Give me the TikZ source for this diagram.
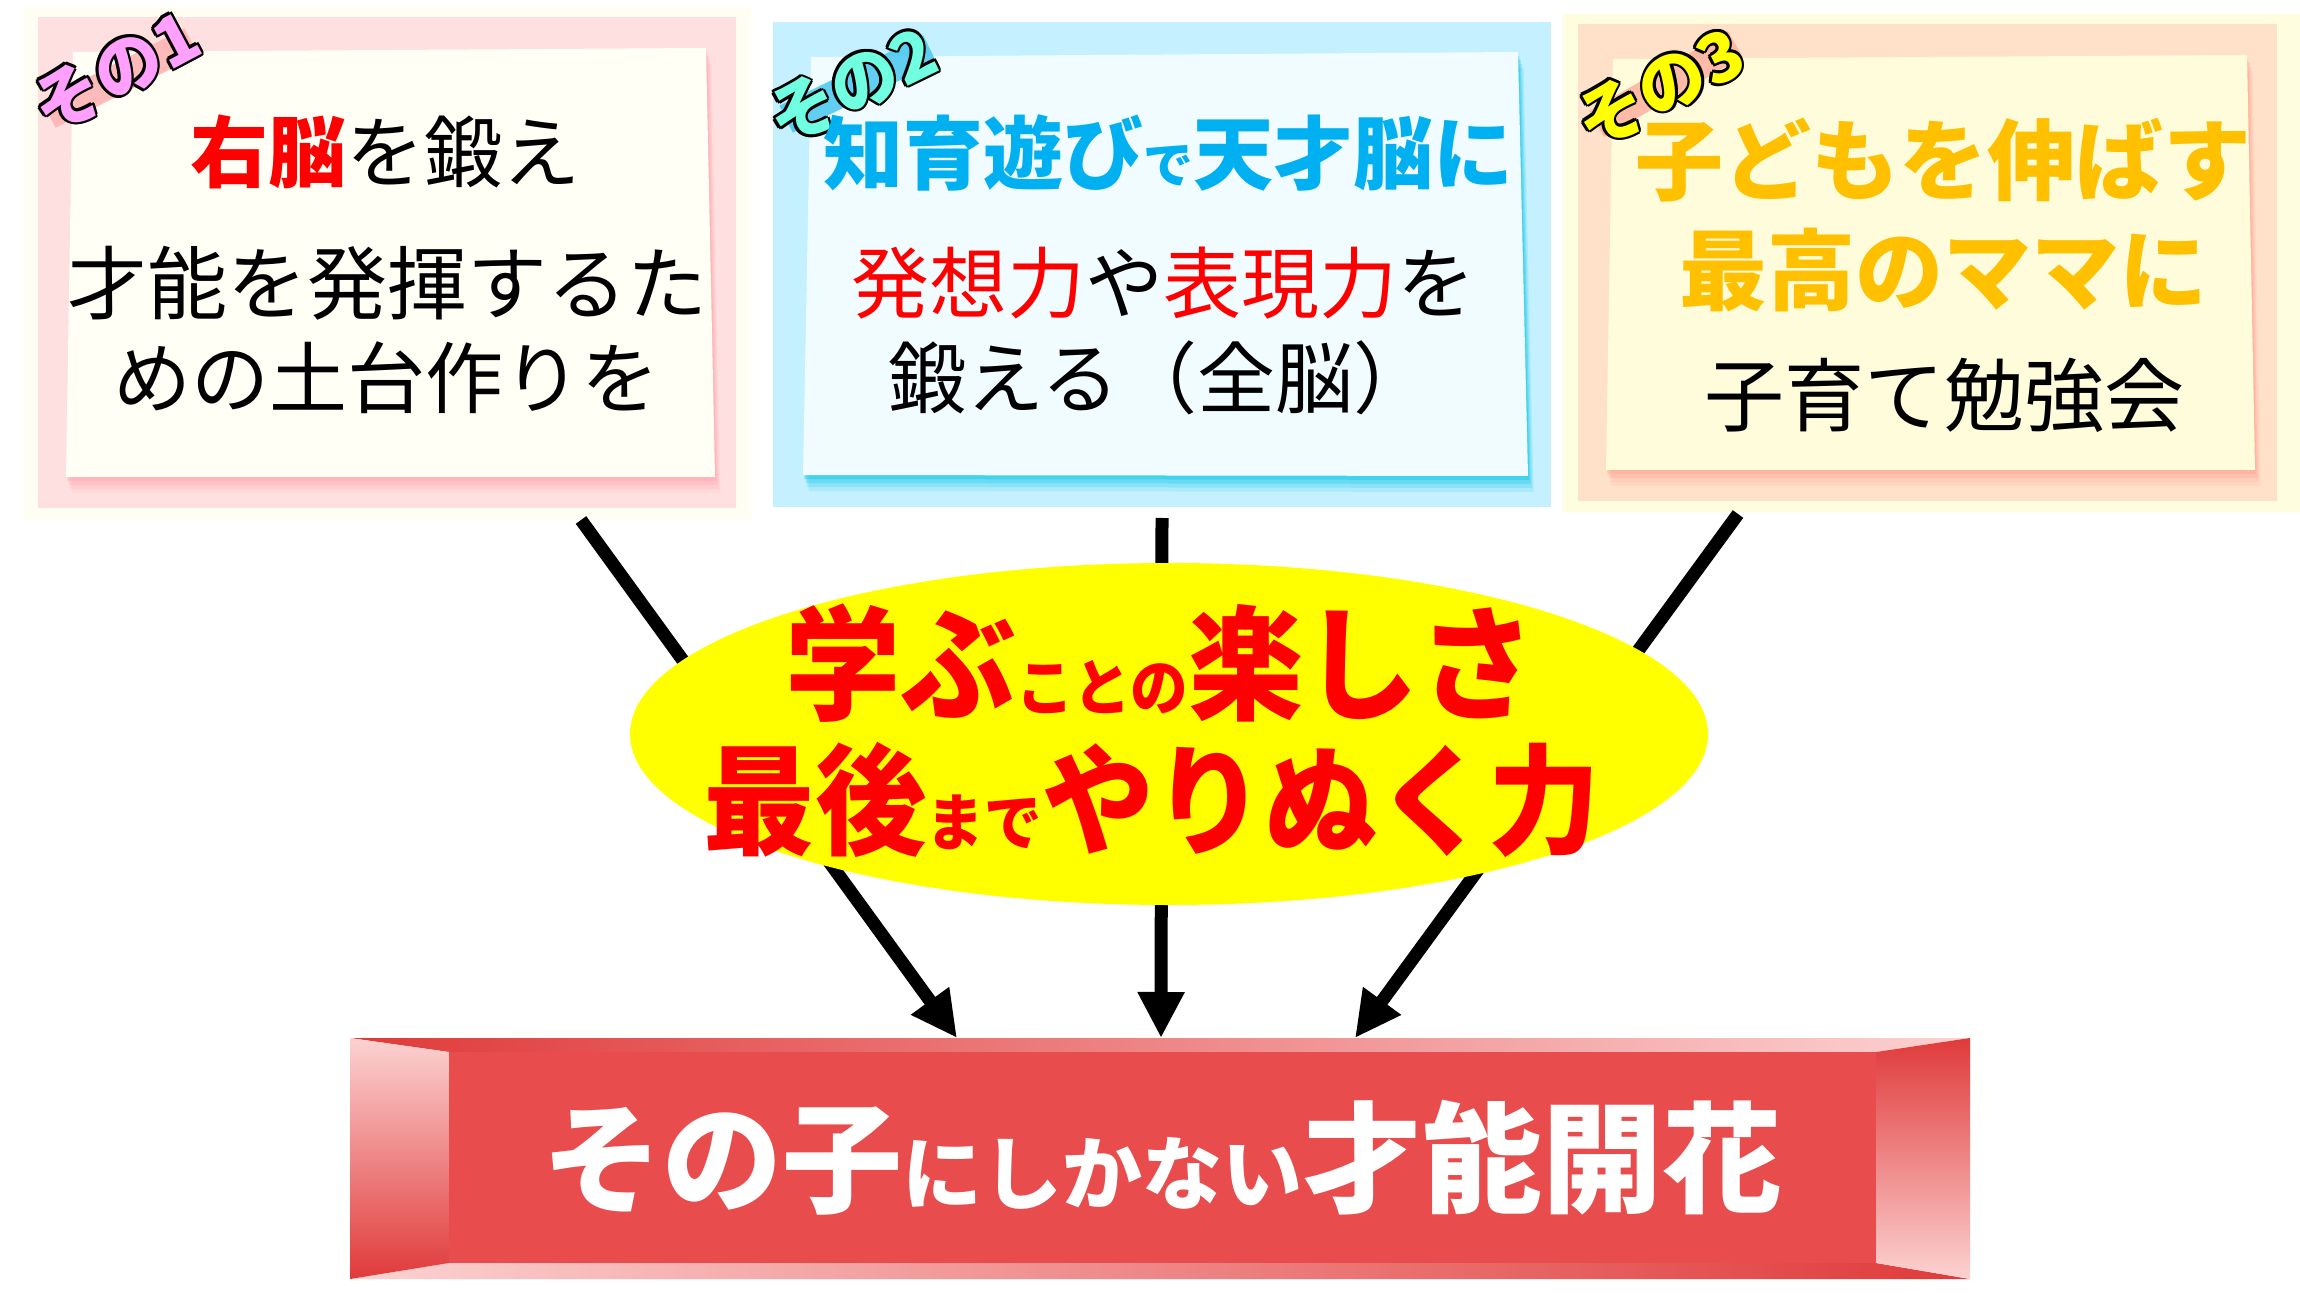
\documentclass[tikz,border=0pt]{standalone}
\usepackage{fontspec}
\newfontfamily\jp{Noto Sans CJK JP}
\usetikzlibrary{arrows.meta,shapes.geometric}
\definecolor{cOneRing}{HTML}{FFFEF2}
\definecolor{cOneBg}{HTML}{FFE0E0}
\definecolor{cOneNote}{HTML}{FFFFF6}
\definecolor{cOneSh}{HTML}{FFA0AC}
\definecolor{cOneTape}{HTML}{FFB4B4}
\definecolor{cOneLab}{HTML}{FFA0FF}
\definecolor{cTwoBg}{HTML}{C4F0FF}
\definecolor{cTwoNote}{HTML}{F0FCFF}
\definecolor{cTwoSh}{HTML}{00C4E6}
\definecolor{cTwoTape}{HTML}{48C8F0}
\definecolor{cTwoLab}{HTML}{70FFE0}
\definecolor{cThreeRing}{HTML}{FFFDE0}
\definecolor{cThreeBg}{HTML}{FFE0C8}
\definecolor{cThreeNote}{HTML}{FFFCDC}
\definecolor{cThreeSh}{HTML}{FFA090}
\definecolor{cThreeTape}{HTML}{FFB0A0}
\definecolor{cThreeLab}{HTML}{FFFF00}
\definecolor{hCyan}{HTML}{00B0F0}
\definecolor{hOrange}{HTML}{FFC000}
\definecolor{hRed}{HTML}{FF0000}
\definecolor{ellYellow}{HTML}{FFFF00}
\definecolor{faceRed}{HTML}{E84C4C}
\definecolor{bvDark}{HTML}{E03A3A}
\definecolor{bvLight}{HTML}{FCD2D2}
\newcommand\fs[1]{\fontsize{#1}{#1}\selectfont}
\newcommand\olt[2]{%
  \rlap{\hspace*{1.4pt}\color{black}#2}%
  \rlap{\hspace*{-1.4pt}\color{black}#2}%
  \rlap{\raisebox{1.4pt}{\color{black}#2}}%
  \rlap{\raisebox{-1.4pt}{\color{black}#2}}%
  \rlap{\hspace*{1pt}\raisebox{1pt}{\color{black}#2}}%
  \rlap{\hspace*{-1pt}\raisebox{1pt}{\color{black}#2}}%
  \rlap{\hspace*{1pt}\raisebox{-1pt}{\color{black}#2}}%
  \rlap{\hspace*{-1pt}\raisebox{-1pt}{\color{black}#2}}%
  {\color{#1}#2}}
\newcommand\stickynote[6]{%
  \foreach \d/\op in {16/0.12,12/0.18,8/0.25,4/0.35}{
    \fill[#2,opacity=\op,shift={(\d*0.35,\d)}] #3 -- #4 -- #5 -- #6 -- cycle;}
  \fill[#1] #3 -- #4 -- #5 -- #6 -- cycle;}
\begin{document}
\begin{tikzpicture}[x=0.5pt,y=-0.5pt,
  txt/.style={inner sep=0pt, font=\jp},
  lab/.style={inner sep=0pt, font=\jp\bfseries\fs{34pt}},
  arr/.style={line width=6.5pt, -{Triangle[length=23pt,width=22pt]}, black}]
\useasboundingbox (0,0) rectangle (2300,1315);
\fill[white] (0,0) rectangle (2300,1315);

% ---------- box 1 ----------
\fill[cOneRing] (24,7) rectangle (751,520);
\fill[cOneBg] (38,17) rectangle (736,508);
\stickynote{cOneNote}{cOneSh}{(73,52)}{(706,48)}{(715,477)}{(66,477)}
\fill[cOneTape,opacity=0.9,rotate around={27:(120,78)}] (40,63) rectangle (200,93);
\node[lab, rotate=28] (lab1) at (116,72) {\olt{cOneLab}{その1}};
\node[txt, font=\jp\fs{39pt}] (b1a) at (385,152) {{\color{hRed}\bfseries 右脳}を鍛え};
\node[txt, font=\jp\fs{40pt}] (b1b) at (387,283) {才能を発揮するた};
\node[txt, font=\jp\fs{39pt}] (b1c) at (386,378) {めの土台作りを};

% ---------- box 2 ----------
\fill[cTwoBg] (773,22) rectangle (1551,507);
\stickynote{cTwoNote}{cTwoSh}{(811,57)}{(1518,52)}{(1528,476)}{(803,475)}
\fill[cTwoTape,opacity=0.85,rotate around={26:(858,84)}] (778,69) rectangle (938,99);
\node[lab, rotate=26] (lab2) at (852,86) {\olt{cTwoLab}{その2}};
\node[txt, font=\jp\bfseries, text=hCyan] (b2a) at (1168,153)
  {\fs{40pt}知育遊び\fs{25pt}で\fs{40pt}天才脳に};
\node[txt, font=\jp\fs{39pt}] (b2b) at (1163,283)
  {{\color{hRed}発想力}や{\color{hRed}表現力}を};
\node[txt, font=\jp\fs{39pt}] (b2c) at (1160,378) {鍛える（全脳）};

% ---------- box 3 ----------
\fill[cThreeRing] (1563,14) rectangle (2300,512);
\fill[cThreeBg] (1578,24) rectangle (2277,501);
\stickynote{cThreeNote}{cThreeSh}{(1613,59)}{(2247,55)}{(2255,470)}{(1606,470)}
\fill[cThreeTape,opacity=0.85,rotate around={30:(1666,84)}] (1586,69) rectangle (1746,99);
\node[lab, rotate=27] (lab3) at (1660,88) {\olt{cThreeLab}{その3}};
\node[txt, font=\jp\bfseries\fs{44pt}, text=hOrange] (b3a) at (1943,160) {子どもを伸ばす};
\node[txt, font=\jp\bfseries\fs{44pt}, text=hOrange] (b3b) at (1943,270) {最高のママに};
\node[txt, font=\jp\fs{40pt}] (b3c) at (1944,395) {子育て勉強会};

% ---------- banner ----------
\shade[left color=bvDark, right color=bvLight] (350,1038) -- (1970,1038) -- (1876,1052) -- (449,1052) -- cycle;
\shade[left color=bvLight, right color=bvDark] (350,1279) -- (449,1263) -- (1876,1263) -- (1970,1279) -- cycle;
\shade[top color=bvLight, bottom color=bvDark] (350,1038) -- (449,1052) -- (449,1263) -- (350,1279) -- cycle;
\shade[top color=bvDark, bottom color=bvLight] (1970,1038) -- (1876,1052) -- (1876,1263) -- (1970,1279) -- cycle;
\node[fill=faceRed, inner sep=0pt, minimum width=713.5pt, minimum height=105.5pt,
  font=\jp\bfseries, text=white] (banner) at (1162.5,1157.5)
  {\fs{60pt}その子\fs{40pt}にしかない\fs{60pt}才能開花};

% ---------- arrows ----------
\coordinate (s1) at (581,520);
\coordinate (s2) at (1162,518);
\coordinate (s3) at (1738,514);
\coordinate (t1) at (957,1038);
\coordinate (t2) at (1161,1038);
\coordinate (t3) at (1355,1038);
\draw[arr] (s1) -- (t1);
\draw[arr] (s2) -- (t2);
\draw[arr] (s3) -- (t3);

% ---------- ellipse ----------
\node[ellipse, fill=ellYellow, inner sep=0pt, minimum width=539pt, minimum height=171pt] (ell) at (1169,734) {};
\node[txt, font=\jp\bfseries, text=hRed, xscale=0.93] (e1) at (1160,663)
  {\fs{62pt}学ぶ\fs{31pt}ことの\fs{62pt}楽しさ};
\node[txt, font=\jp\bfseries, text=hRed, xscale=0.93] (e2) at (1152,800)
  {\fs{60pt}最後\fs{31pt}まで\fs{60pt}やりぬく力};
\end{tikzpicture}
\end{document}
